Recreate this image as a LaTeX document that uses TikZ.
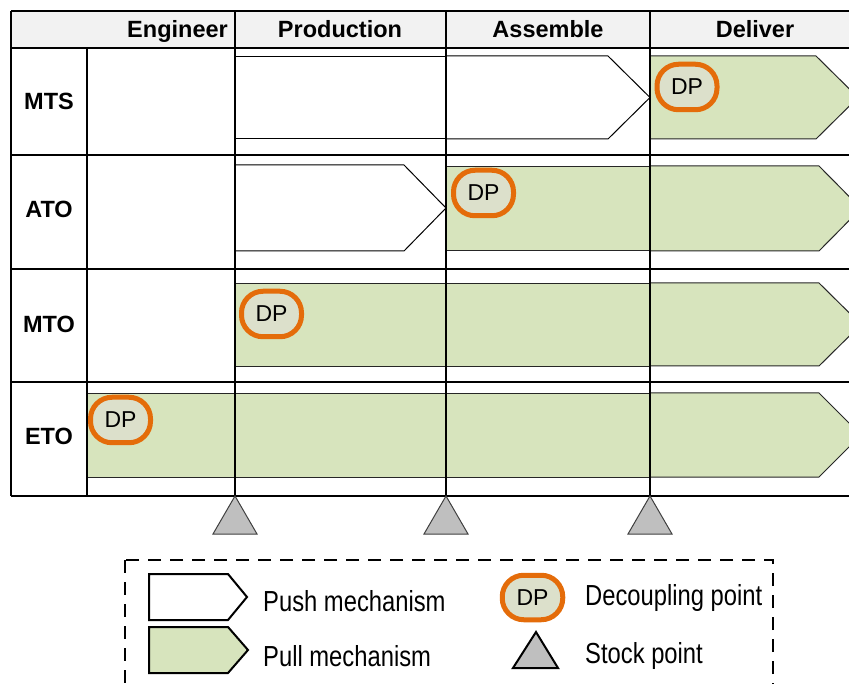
\documentclass[tikz,border=0pt]{standalone}
\usepackage{fontspec}
\setmainfont{Liberation Sans}
\newfontfamily\narrowsans[FakeStretch=0.82]{Liberation Sans}
\definecolor{pullgreen}{HTML}{D7E4BD}
\definecolor{dporange}{HTML}{E46C0A}
\definecolor{dpfill}{HTML}{DCE0CB}
\definecolor{headgray}{HTML}{F2F2F2}
\definecolor{stockgray}{HTML}{BFBFBF}
\begin{document}
\begin{tikzpicture}[x=1pt,y=-1pt,
  hdr/.style={inner sep=0, font=\fontsize{23.5}{28}\selectfont\bfseries},
  pushband/.style={draw=black, line width=1pt, fill=white},
  pullband/.style={draw=black!85, line width=1pt, fill=pullgreen},
  thickgrid/.style={line width=2pt},
  thingrid/.style={line width=1.5pt},
  dpmark/.style={draw=dporange, line width=5pt, fill=dpfill, rounded corners=21.5pt,
    minimum width=60pt, minimum height=45.5pt, inner sep=0,
    font=\fontsize{23}{27}\selectfont},
  stockmark/.style={fill=stockgray, draw=black!75, line width=1pt},
  legbox/.style={draw=black, line width=2pt},
  legtext/.style={anchor=base west, inner sep=0, font=\narrowsans\fontsize{29}{34}\selectfont}]
\useasboundingbox (0,0) rectangle (849,684);
\clip (0,0) rectangle (849,684);

% header band
\fill[headgray] (11,11) rectangle (860,48);

% MTS row
\draw[pushband] (235,57) rectangle (446,139);
\draw[pushband] (446,56) -- (608,56) -- (650,97.5) -- (608,139) -- (446,139) -- cycle;
\draw[pullband] (650,56) -- (816,56) -- (858,97.5) -- (816,139) -- (650,139) -- cycle;
% ATO row
\draw[pushband] (235,165) -- (404,165) -- (446,208) -- (404,251) -- (235,251) -- cycle;
\draw[pullband] (446,167) rectangle (650,251);
\draw[pullband] (650,166) -- (819,166) -- (861,208.5) -- (819,251) -- (650,251) -- cycle;
% MTO row
\draw[pullband] (235,284) rectangle (650,367);
\draw[pullband] (650,283) -- (819,283) -- (861,324.5) -- (819,366) -- (650,366) -- cycle;
% ETO row
\draw[pullband] (87,394) rectangle (650,477);
\draw[pullband] (650,393) -- (819,393) -- (861,435) -- (819,477) -- (650,477) -- cycle;

% table grid
\draw[thickgrid] (11,11) -- (860,11);
\draw[thingrid] (11,48) -- (860,48);
\foreach \yy in {155,269,382,496} \draw[thickgrid] (11,\yy) -- (860,\yy);
\draw[thickgrid] (11,11) -- (11,496);
\draw[thingrid] (87,48) -- (87,496);
\foreach \xx in {235,446,650} \draw[thickgrid] (\xx,11) -- (\xx,496);

% column headers
\node[hdr, anchor=base east] (hEng) at (228,38) {Engineer};
\node[hdr, anchor=base] (hProd) at (340,38) {Production};
\node[hdr, anchor=base] (hAsm) at (548,38) {Assemble};
\node[hdr, anchor=base] (hDel) at (755,38) {Deliver};

% row labels
\node[hdr, anchor=base] (rMTS) at (49,110) {MTS};
\node[hdr, anchor=base] (rATO) at (49,218) {ATO};
\node[hdr, anchor=base] (rMTO) at (49,333) {MTO};
\node[hdr, anchor=base] (rETO) at (49,445) {ETO};

% decoupling points
\node[dpmark] (dpMTS) at (687,87) {DP};
\node[dpmark] (dpATO) at (483.5,193) {DP};
\node[dpmark] (dpMTO) at (271.5,314) {DP};
\node[dpmark] (dpETO) at (120.5,420) {DP};

% stock points below the column boundaries
\coordinate (sp1) at (235,496);
\coordinate (sp2) at (446,496);
\coordinate (sp3) at (650,496);
\foreach \c in {sp1,sp2,sp3}
  \draw[stockmark] (\c) -- ++(22,38) -- ++(-44,0) -- cycle;

% legend
\draw[line width=1.5pt, dash pattern=on 13pt off 9pt] (125,560) rectangle (773,700);
\draw[legbox, fill=white] (149,574) -- (228,574) -- (247,597) -- (228,620) -- (149,620) -- cycle;
\draw[legbox, fill=pullgreen] (149,627) -- (228,627) -- (248,650) -- (228,673) -- (149,673) -- cycle;
\node[legtext] (lPush) at (263,611) {Push mechanism};
\node[legtext] (lPull) at (263,666) {Pull mechanism};
\node[dpmark, minimum width=60.5pt, minimum height=44.5pt] (dpLeg) at (532.5,597.5) {DP};
\node[legtext] (lDP) at (585,605) {Decoupling point};
\coordinate (spLeg) at (536,632);
\draw[legbox, fill=stockgray] (spLeg) -- ++(22,36) -- ++(-45,0) -- cycle;
\node[legtext] (lStock) at (585,663) {Stock point};
\end{tikzpicture}
\end{document}
